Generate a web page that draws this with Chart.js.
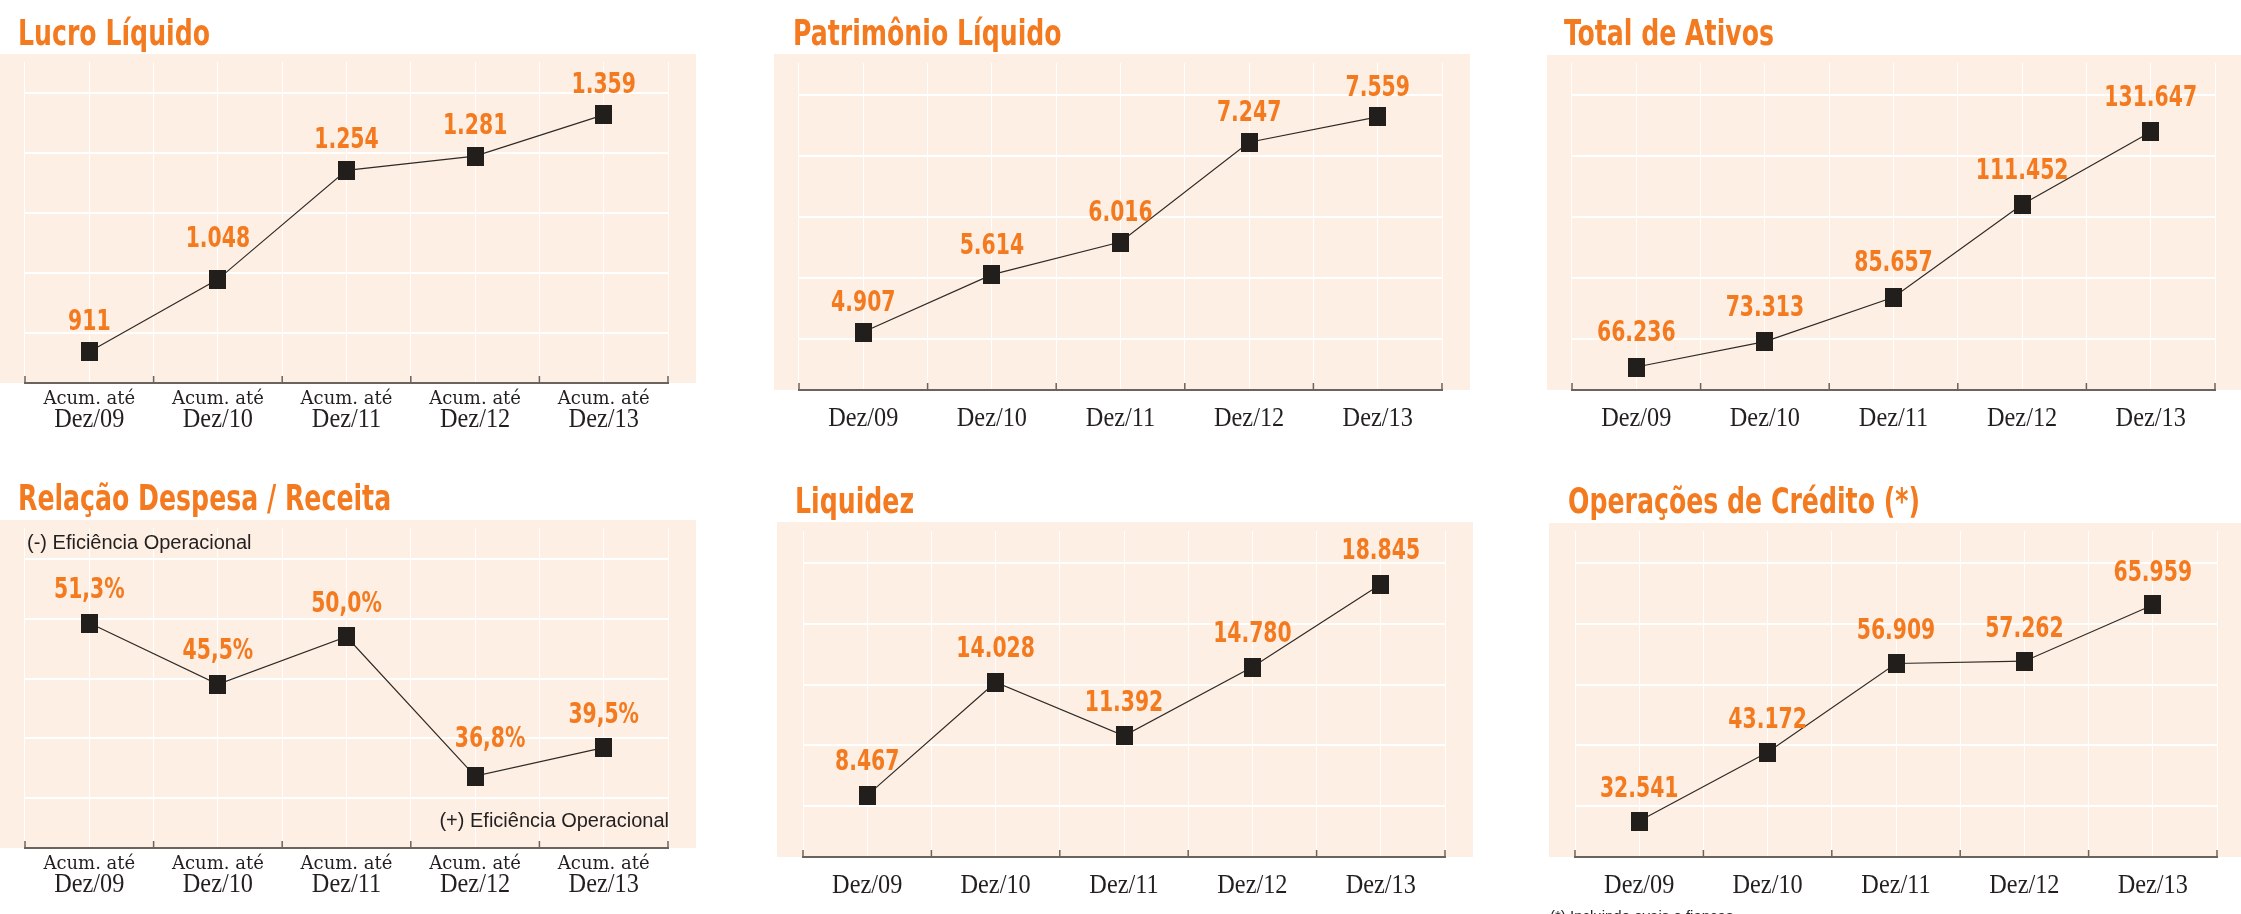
<!DOCTYPE html>
<html lang="pt-BR">
<head>
<meta charset="utf-8">
<title>Indicadores Dez/09 - Dez/13</title>
<script src="https://cdn.jsdelivr.net/npm/chart.js@4.4.1/dist/chart.umd.min.js"></script>
<style>
  html, body { margin: 0; padding: 0; background: #ffffff; }
  body { width: 2241px; height: 914px; position: relative; overflow: hidden; }
  canvas { position: absolute; }
</style>
</head>
<body>
<script>
// data
const categories = ['Dez/09', 'Dez/10', 'Dez/11', 'Dez/12', 'Dez/13'];
const acumPrefix = 'Acum. até';
const lucroLiquido = [911, 1048, 1254, 1281, 1359];
const patrimonioLiquido = [4907, 5614, 6016, 7247, 7559];
const totalAtivos = [66236, 73313, 85657, 111452, 131647];
const despesaReceita = [51.3, 45.5, 50.0, 36.8, 39.5];
const liquidez = [8467, 14028, 11392, 14780, 18845];
const operacoesCredito = [32541, 43172, 56909, 57262, 65959];
const eficienciaLabels = ['(-) Eficiência Operacional', '(+) Eficiência Operacional'];
const footnote = '(*) Incluindo avais e fianças';

// colours and fonts
const orange = '#f47a20';
const ink = '#231f20';
const panelBg = '#fdefe3';
const axisColor = '#6b635d';
const narrow = '"Liberation Sans Narrow", "DejaVu Sans Condensed", "DejaVu Sans", sans-serif';

// white grid lines sit at these fractions of the plot height
const gridFractions = [0.156, 0.343, 0.529, 0.716, 0.902];

const fmtThousands = v => String(v).replace(/\B(?=(\d{3})+(?!\d))/g, '.');
const fmtPercent = v => v.toFixed(1).replace('.', ',') + '%';

// one dark rectangle used as point marker
const marker = document.createElement('canvas');
marker.width = 17; marker.height = 19;
const mctx = marker.getContext('2d');
mctx.fillStyle = '#221e1b';
mctx.fillRect(0, 0, 17, 19);

// labelDy: baseline of value label relative to the point; nudge moves single labels off the line
const panels = [
  { title: 'Lucro Líquido', values: lucroLiquido, fmt: fmtThousands, acum: true,
    min: 852, max: 1459, rowTop: 0, titleX: 18, titleY: 45, labelDy: -22, nudge: { 1: [0, -10] },
    bg: { x: 0, y: 54, r: 696 }, area: { l: 25, r: 668, t: 62, b: 383 } },
  { title: 'Patrimônio Líquido', values: patrimonioLiquido, fmt: fmtThousands,
    min: 4192, max: 8224, rowTop: 0, titleX: 793, titleY: 45, labelDy: -21,
    bg: { x: 774, y: 54, r: 1470 }, area: { l: 799, r: 1442, t: 63, b: 390 } },
  { title: 'Total de Ativos', values: totalAtivos, fmt: fmtThousands,
    min: 59835, max: 150845, rowTop: 0, titleX: 1564, titleY: 45, labelDy: -26,
    bg: { x: 1547, y: 55, r: 2241 }, area: { l: 1572, r: 2215, t: 63, b: 390 } },
  { title: 'Relação Despesa / Receita', values: despesaReceita, fmt: fmtPercent, acum: true, eficiencia: true,
    min: 30, max: 60.3, rowTop: 457, titleX: 18, titleY: 510, labelDy: -25, nudge: { 3: [15, -4] },
    bg: { x: 0, y: 520, r: 696 }, area: { l: 25, r: 668, t: 528, b: 848 } },
  { title: 'Liquidez', values: liquidez, fmt: fmtThousands,
    min: 5435, max: 21470, rowTop: 457, titleX: 795, titleY: 513, labelDy: -25,
    bg: { x: 777, y: 522, r: 1473 }, area: { l: 803, r: 1445, t: 531, b: 857 } },
  { title: 'Operações de Crédito (*)', values: operacoesCredito, fmt: fmtThousands, note: true,
    min: 26972, max: 77405, rowTop: 457, titleX: 1568, titleY: 513, labelDy: -24,
    bg: { x: 1549, y: 523, r: 2241 }, area: { l: 1575, r: 2217, t: 531, b: 857 } }
];

// text squeezed horizontally by sx to get the condensed look
function text(ctx, str, x, y, font, color, align, sx) {
  ctx.save();
  ctx.font = font;
  ctx.fillStyle = color;
  ctx.textAlign = align || 'center';
  ctx.textBaseline = 'alphabetic';
  ctx.translate(x, y);
  ctx.scale(sx || 1, 1);
  ctx.fillText(str, 0, 0);
  ctx.restore();
}

function makeChart(p) {
  const rowH = 457;
  const w = p.bg.r - p.bg.x;
  const canvas = document.createElement('canvas');
  canvas.width = w; canvas.height = rowH;
  canvas.style.left = p.bg.x + 'px';
  canvas.style.top = p.rowTop + 'px';
  canvas.style.width = w + 'px';
  canvas.style.height = rowH + 'px';
  document.body.appendChild(canvas);

  const decor = {
    id: 'panelDecor',
    beforeDraw(chart) {
      const { ctx, chartArea } = chart;
      const top = p.bg.y - p.rowTop;
      ctx.save();
      ctx.fillStyle = panelBg;
      ctx.fillRect(0, top, chart.width, chartArea.bottom - top);
      ctx.restore();
    },
    afterDraw(chart) {
      const { ctx, chartArea } = chart;
      const xs = chart.scales.x;
      const n = categories.length;
      const step = (xs.right - xs.left) / n;

      // title
      text(ctx, p.title, p.titleX - p.bg.x, p.titleY - p.rowTop, 'bold 35px ' + narrow, orange, 'left', 0.8);

      // small upward ticks on the axis at category boundaries
      ctx.save();
      ctx.strokeStyle = axisColor;
      ctx.lineWidth = 1.5;
      for (let i = 0; i <= n; i++) {
        const x = xs.left + i * step;
        ctx.beginPath();
        ctx.moveTo(x, chartArea.bottom);
        ctx.lineTo(x, chartArea.bottom - 7);
        ctx.stroke();
      }
      ctx.restore();

      // category labels
      categories.forEach((c, i) => {
        const x = xs.getPixelForValue(i);
        if (p.acum) {
          text(ctx, acumPrefix, x, chartArea.bottom + 21, '18px "DejaVu Serif", serif', ink);
          text(ctx, c, x, chartArea.bottom + 44, '27px "Liberation Serif", serif', ink, 'center', 0.9);
        } else {
          text(ctx, c, x, chartArea.bottom + 36, '27px "Liberation Serif", serif', ink, 'center', 0.9);
        }
      });

      // value labels above the markers
      const meta = chart.getDatasetMeta(0);
      meta.data.forEach((pt, i) => {
        const [dx, dy] = (p.nudge && p.nudge[i]) || [0, 0];
        text(ctx, p.fmt(p.values[i]), pt.x + dx, pt.y + p.labelDy + dy, 'bold 29px ' + narrow, orange, 'center', 0.78);
      });

      if (p.eficiencia) {
        text(ctx, eficienciaLabels[0], chartArea.left + 2, chartArea.top + 21, '20px "Liberation Sans", sans-serif', ink, 'left');
        text(ctx, eficienciaLabels[1], chartArea.right + 1, chartArea.bottom - 21, '20px "Liberation Sans", sans-serif', ink, 'right');
      }
      if (p.note) {
        text(ctx, footnote, 1550 - p.bg.x, 921 - p.rowTop, '15px "Liberation Sans", sans-serif', ink, 'left');
      }
    }
  };

  new Chart(canvas, {
    type: 'line',
    data: {
      labels: categories,
      datasets: [{
        data: p.values,
        borderColor: '#2f2a26',
        borderWidth: 1.2,
        tension: 0,
        fill: false,
        pointStyle: marker,
        pointRadius: 9
      }]
    },
    options: {
      responsive: false,
      animation: false,
      devicePixelRatio: 1,
      layout: {
        padding: {
          left: p.area.l - p.bg.x,
          right: p.bg.r - p.area.r,
          top: p.area.t - p.rowTop,
          bottom: 0
        }
      },
      plugins: { legend: { display: false }, tooltip: { enabled: false } },
      scales: {
        x: {
          type: 'category',
          position: 'bottom',
          offset: true,
          grid: { offset: true, color: 'rgba(255,255,255,0.9)', lineWidth: 1, drawTicks: false },
          border: { display: true, color: axisColor, width: 2 },
          ticks: { display: false },
          afterFit: s => { s.height = p.rowTop + rowH - p.area.b; }
        },
        xMid: {
          type: 'category',
          position: 'bottom',
          offset: true,
          grid: { offset: false, color: 'rgba(255,255,255,0.9)', lineWidth: 1, drawTicks: false },
          border: { display: false },
          ticks: { display: false },
          afterFit: s => { s.height = 0; }
        },
        y: {
          min: p.min,
          max: p.max,
          grid: { color: '#ffffff', lineWidth: 2, drawTicks: false },
          border: { display: false },
          ticks: { display: false },
          afterBuildTicks: s => {
            s.ticks = gridFractions.map(f => ({ value: s.min + f * (s.max - s.min) }));
          }
        }
      }
    },
    plugins: [decor]
  });
}

panels.forEach(makeChart);
</script>
</body>
</html>
